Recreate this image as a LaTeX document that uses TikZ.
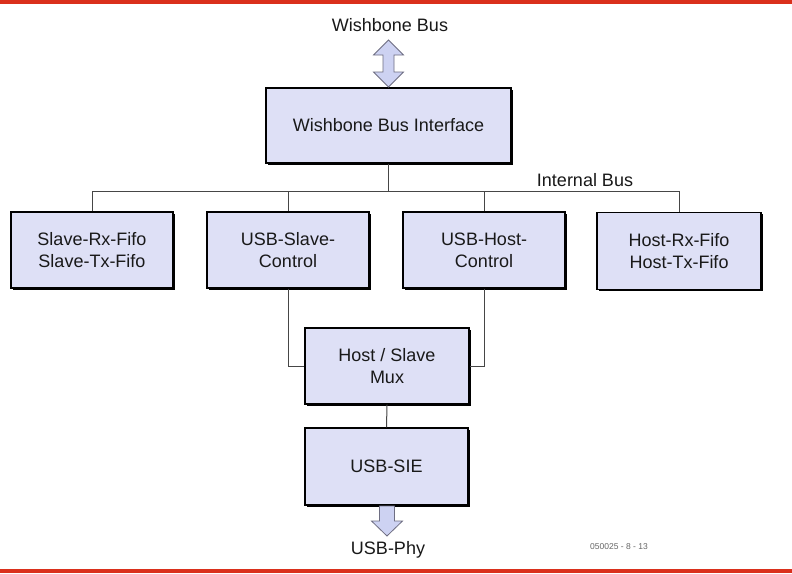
\documentclass[tikz,border=0pt]{standalone}
\usepackage{fontspec}
\setmainfont{Liberation Sans}
\definecolor{boxfill}{RGB}{222,224,246}
\definecolor{arrowfill}{RGB}{205,210,242}
\definecolor{arrowline}{RGB}{110,110,130}
\definecolor{bordred}{RGB}{218,48,28}
\definecolor{linegray}{RGB}{70,70,70}
\begin{document}
\begin{tikzpicture}[x=1pt,y=-1pt,
  blk/.style={draw=black, line width=1.4pt, fill=boxfill, align=center,
    font=\fontsize{18}{22}\selectfont, text=black!90,
    preaction={fill=black, transform canvas={shift={(1.6pt,-1.6pt)}}},
    inner sep=0pt},
  lbl/.style={font=\fontsize{18}{22}\selectfont, text=black!90, inner sep=0pt},
  conn/.style={draw=linegray, line width=1pt},
  bigarrow/.style={draw=arrowline, line width=0.8pt, fill=arrowfill, line join=miter}]
\useasboundingbox (0,0) rectangle (792,573);
\fill[white] (0,0) rectangle (792,573);
\fill[bordred] (0,0) rectangle (792,3.5);
\fill[bordred] (0,568.5) rectangle (792,573);

% nodes
\node[lbl] (wbbus) at (390,25) {Wishbone Bus};
\node[blk, minimum width=245pt, minimum height=75pt] (wbi) at (388.5,125.5) {Wishbone Bus Interface};
\node[blk, minimum width=162pt, minimum height=76pt] (sfifo) at (92,250) {Slave-Rx-Fifo\\Slave-Tx-Fifo};
\node[blk, minimum width=162pt, minimum height=76pt] (sctl) at (288,250) {USB-Slave-\\Control};
\node[blk, minimum width=162pt, minimum height=76pt] (hctl) at (484,250) {USB-Host-\\Control};
\node[blk, minimum width=164pt, minimum height=77pt] (hfifo) at (679,251) {Host-Rx-Fifo\\Host-Tx-Fifo};
\node[blk, minimum width=164pt, minimum height=76pt] (mux) at (387,366) {Host / Slave\\Mux};
\node[blk, minimum width=163pt, minimum height=77pt] (sie) at (386.5,466.5) {USB-SIE};
\node[lbl] (phy) at (388,550) {USB-Phy};
\node[font=\fontsize{8.5}{10}\selectfont, text=black!60, inner sep=0pt] (code) at (619,547) {050025 - 8 - 13};
\node[lbl, anchor=base] (ibus) at (585,186) {Internal Bus};

% internal bus
\coordinate (busL) at (92,191);
\coordinate (busR) at (679,191);
\draw[conn] (busL) -- (busR);
\draw[conn] (wbi.south) -- (wbi.south |- busL);
\draw[conn] (sfifo.north) -- (sfifo.north |- busL);
\draw[conn] (sctl.north) -- (sctl.north |- busL);
\draw[conn] (hctl.north) -- (hctl.north |- busL);
\draw[conn] (hfifo.north) -- (hfifo.north |- busL);
\draw[conn] (sctl.south) |- (mux.west);
\draw[conn] (hctl.south) |- (mux.east);
\draw[conn] (mux.south) -- (sie.north);

% double arrow (Wishbone Bus)
\draw[bigarrow] (388.5,40) -- (403.5,55) -- (394,55) -- (394,72) -- (403.5,72) -- (388.5,87)
  -- (373.5,72) -- (383,72) -- (383,55) -- (373.5,55) -- cycle;
% down arrow (USB-Phy)
\draw[bigarrow] (379.5,506) -- (394.5,506) -- (394.5,521) -- (402.5,521) -- (387,536)
  -- (371.5,521) -- (379.5,521) -- cycle;
\end{tikzpicture}
\end{document}
